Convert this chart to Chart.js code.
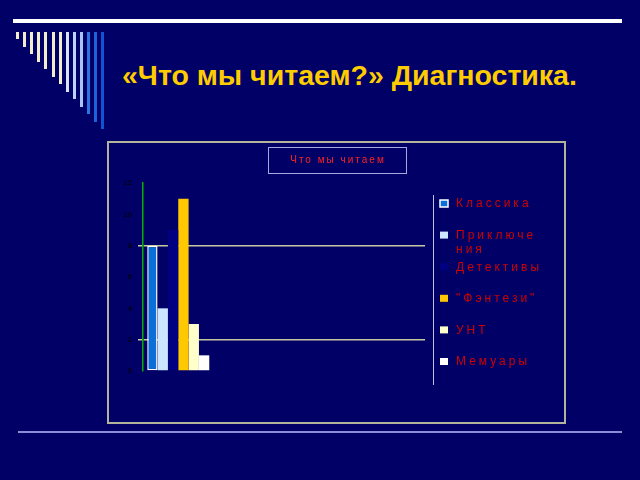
<!DOCTYPE html>
<html>
<head>
<meta charset="utf-8">
<script src="https://cdn.jsdelivr.net/npm/chart.js@4"></script>
<style>
  html, body { margin: 0; padding: 0; }
  body { width: 640px; height: 480px; background: #000066; position: relative; overflow: hidden; font-family: "Liberation Sans", Arial, sans-serif; }
  .topline { position: absolute; left: 13px; top: 19px; width: 609px; height: 4px; background: #ffffff; }
  .bottomline { position: absolute; left: 18px; top: 431px; width: 604px; height: 2px; background: #8c8cd8; }
  .deco { position: absolute; top: 32px; width: 3px; }
  .slide-title { position: absolute; left: 122px; top: 59px; color: #ffcc00; font-weight: bold; font-size: 28.5px; white-space: nowrap; }
  .frame { position: absolute; left: 107px; top: 141px; width: 459px; height: 283px; box-sizing: border-box; border: 2px solid #b4b49c; }
  #chartCanvas { position: absolute; left: 108px; top: 142px; }
</style>
</head>
<body>
<div class="topline"></div>
<div id="deco"></div>
<div class="slide-title">«Что мы читаем?» Диагностика.</div>
<div class="frame"></div>
<canvas id="chartCanvas" width="457" height="281"></canvas>
<div class="bottomline"></div>
<script>
// данные диаграммы
const chartTitle = 'Что мы читаем';
const categories = ['1 кв', '2 кв', '3 кв', '4 кв'];
const seriesNames = ['Классика', 'Приключения', 'Детективы', '"Фэнтези"', 'УНТ', 'Мемуары'];
const klassika = [8, null, null, null];
const priklyucheniya = [4, null, null, null];
const detektivy = [9, null, null, null];
const fentezi = [11, null, null, null];
const unt = [3, null, null, null];
const memuary = [1, null, null, null];
const yTicks = [0, 2, 4, 6, 8, 10, 12];
const gridValues = [2, 8];

const seriesValues = [klassika, priklyucheniya, detektivy, fentezi, unt, memuary];
const seriesColors = ['#0a6fd8', '#cce6ff', '#000080', '#ffc800', '#ffffcc', '#ffffff'];

// декоративные полоски слева сверху
const decoColors = ['#f2eecc', '#f2eecc', '#f2eecc', '#f2eecc', '#f2eecc', '#f2eecc', '#f2eecc',
                    '#d8e4ff', '#bcd2f8', '#a8c4f4', '#2c74e4', '#1c64dc', '#1054d4'];
const decoBox = document.getElementById('deco');
decoColors.forEach(function (c, i) {
  const d = document.createElement('div');
  d.className = 'deco';
  d.style.left = (16 + i * 7.1) + 'px';
  d.style.height = (7 + i * 7.5) + 'px';
  d.style.background = c;
  decoBox.appendChild(d);
});

// заголовок в рамке и легенда справа
const slideExtras = {
  id: 'slideExtras',
  afterDraw(chart) {
    const ctx = chart.ctx;
    ctx.save();
    // заголовок
    ctx.strokeStyle = '#a8a8e0';
    ctx.lineWidth = 1;
    ctx.strokeRect(160.5, 5.5, 138, 26);
    ctx.fillStyle = '#ff2020';
    ctx.font = '10px "Liberation Sans", Arial, sans-serif';
    ctx.letterSpacing = '2px';
    ctx.textAlign = 'center';
    ctx.textBaseline = 'middle';
    ctx.fillText(chartTitle, 230, 18);

    // легенда
    ctx.strokeStyle = '#c0c0e8';
    ctx.beginPath();
    ctx.moveTo(325.5, 53);
    ctx.lineTo(325.5, 243);
    ctx.stroke();

    ctx.font = '12px "Liberation Sans", Arial, sans-serif';
    ctx.letterSpacing = '3px';
    ctx.textAlign = 'left';
    const maxW = 89;
    chart.data.datasets.forEach(function (ds, i) {
      const y = 62 + i * 31.6;
      ctx.fillStyle = ds.backgroundColor;
      ctx.fillRect(332, y - 4, 8, 7);
      if (ds.borderWidth) {
        ctx.strokeStyle = ds.borderColor;
        ctx.lineWidth = 1.5;
        ctx.strokeRect(332, y - 4, 8, 7);
      }
      // перенос длинной подписи
      const lines = [];
      let rest = ds.label;
      while (rest.length) {
        let n = rest.length;
        while (n > 1 && ctx.measureText(rest.slice(0, n)).width > maxW) n--;
        lines.push(rest.slice(0, n));
        rest = rest.slice(n);
      }
      ctx.fillStyle = '#d00000';
      lines.forEach(function (t, k) {
        ctx.fillText(t, 348, y + k * 14);
      });
    });
    ctx.restore();
  }
};

const chartArea = document.getElementById('chartCanvas').getContext('2d');
const myChart = new Chart(chartArea, {
  type: 'bar',
  data: {
    labels: categories,
    datasets: seriesNames.map(function (name, i) {
      return {
        label: name,
        data: seriesValues[i],
        backgroundColor: seriesColors[i],
        borderColor: '#ffffff',
        borderWidth: i === 0 ? 1.5 : 0,
        borderSkipped: false,
        categoryPercentage: 0.88,
        barPercentage: 1
      };
    })
  },
  plugins: [slideExtras],
  options: {
    responsive: false,
    animation: false,
    layout: { padding: { left: 0, right: 140, top: 41, bottom: 32 } },
    plugins: {
      legend: { display: false },
      title: { display: false },
      tooltip: { enabled: false }
    },
    scales: {
      x: {
        grid: { display: false },
        border: { display: false },
        ticks: { color: '#000000', padding: 10, font: { size: 8 } },
        afterFit: function (scale) { scale.height = 20; }
      },
      y: {
        min: 0,
        max: 12,
        afterBuildTicks: function (scale) {
          scale.ticks = yTicks.map(function (v) { return { value: v }; });
        },
        grid: {
          tickLength: 5,
          lineWidth: 1.5,
          color: function (c) {
            return gridValues.includes(c.tick && c.tick.value) ? '#c8c8a0' : 'rgba(0,0,0,0)';
          }
        },
        border: { color: '#00b000', width: 1.5 },
        ticks: { color: '#000000', padding: 6, font: { size: 8 } },
        afterFit: function (scale) { scale.width = 35; }
      }
    }
  }
});
</script>
</body>
</html>
